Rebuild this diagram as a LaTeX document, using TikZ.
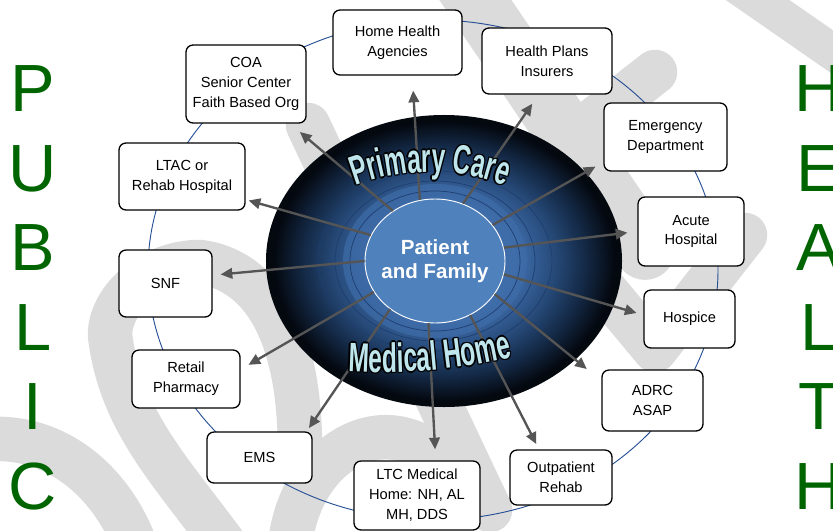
\documentclass[tikz,border=0pt]{standalone}
\usepackage{fontspec}
\setmainfont{Liberation Sans}
\newfontfamily\archfont{Liberation Sans}[FakeStretch=0.6]
\usetikzlibrary{positioning, arrows.meta, shapes.geometric, decorations.text}

\definecolor{healthgreen}{RGB}{0,100,0}
\definecolor{wmgray}{RGB}{219,219,219}
\definecolor{orbitblue}{RGB}{40,80,150}
\definecolor{arrowgray}{RGB}{85,85,85}
\definecolor{coreblue}{RGB}{79,129,189}
\definecolor{haloblue}{RGB}{62,108,168}
\definecolor{ringblue}{RGB}{30,62,112}
\definecolor{archcyan}{RGB}{190,230,236}
\definecolor{orbA}{RGB}{66,112,172}
\definecolor{orbB}{RGB}{52,94,150}
\definecolor{orbC}{RGB}{36,70,115}
\definecolor{orbD}{RGB}{19,40,68}
\definecolor{orbE}{RGB}{4,8,15}

% dark disc: blue at the middle, almost black at the rim
\pgfdeclareradialshading{orbshade}{\pgfpoint{0bp}{0bp}}{%
  color(0bp)=(orbA); color(10bp)=(orbA); color(12.5bp)=(orbB);
  color(16bp)=(orbC); color(20bp)=(orbD); color(24bp)=(orbE); color(50bp)=(orbE)}

\begin{document}
\begin{tikzpicture}[
    x=0.03cm, y=-0.03cm,
    font=\fontsize{12.5}{17}\selectfont,
    % one style per kind of thing
    unit/.style   = {draw=black, line width=1.1pt, fill=white, rounded corners=6pt,
                     align=center, inner sep=2pt},
    arr/.style    = {draw=arrowgray, line width=2pt, -{Triangle[length=10pt, width=9pt]}},
    band/.style   = {draw=wmgray, line width=38pt, line cap=round, line join=round},
    ring/.style   = {draw=ringblue, line width=0.6pt},
    letter/.style = {text=healthgreen, font=\fontsize{57}{57}\selectfont, inner sep=0pt},
    arched/.style 2 args = {decorate, decoration={text along path, text align=center,
                     text={|\archfont\bfseries\fontsize{35}{35}\selectfont\color{#1}|#2}}},
  ]

  \path[use as bounding box] (0,0) rectangle (833,531);
  \clip (0,0) rectangle (833,531);

  %% ---------- watermark swooshes behind everything ----------
  \draw[band, line width=31pt] (700,-40) -- (880,85);
  \draw[band, line width=51pt] (455,-30) -- (645,250);
  \draw[band] (655,72) -- (530,170);
  \draw[band] (308,125) -- (490,510);
  \draw[band] (605,290) -- (655,350) -- (745,235);
  \draw[band] (-20,440) .. controls (60,430) and (120,490) .. (140,560);
  \draw[band] (300,450) .. controls (300,330) and (260,270) .. (200,262)
              .. controls (150,262) and (110,300) .. (110,335)
              .. controls (120,420) and (170,470) .. (225,545);
  \draw[band] (290,545) .. controls (300,450) and (390,400) .. (450,470);

  %% ---------- orbit through the partners ----------
  \draw[draw=orbitblue, line width=0.8pt] (433,270) ellipse [x radius=285, y radius=250];

  %% ---------- the medical home disc ----------
  \node[ellipse, shade, shading=orbshade, minimum width=10.68cm, minimum height=8.76cm,
        inner sep=0pt] (orb) at (444,261) {};
  \fill[haloblue, opacity=0.7] (435,261) ellipse [x radius=92, y radius=77];
  \foreach \rx/\ry in {117/90, 100/80, 85/70}
    \draw[ring] (435,261) ellipse [x radius=\rx, y radius=\ry];
  \node[ellipse, draw=white, line width=0.8pt, fill=coreblue, minimum width=4.2cm,
        minimum height=3.72cm, inner sep=0pt] (pf) at (435,261) {};

  %% ---------- partners round the orbit ----------
  \node[unit, minimum width=3.87cm, minimum height=1.95cm] (hha)     at (397.5,42.5) {Home Health\\Agencies};
  \node[unit, minimum width=3.90cm, minimum height=1.98cm] (hpi)     at (547,61)     {Health Plans\\Insurers};
  \node[unit, minimum width=3.69cm, minimum height=2.04cm] (ed)      at (665.5,137)  {Emergency\\Department};
  \node[unit, minimum width=3.18cm, minimum height=2.07cm] (acute)   at (691,231.5)  {Acute\\Hospital};
  \node[unit, minimum width=2.73cm, minimum height=1.74cm] (hospice) at (689.5,319)  {Hospice};
  \node[unit, minimum width=3.03cm, minimum height=1.83cm] (adrc)    at (652.5,400.5){ADRC\\ASAP};
  \node[unit, minimum width=3.06cm, minimum height=1.65cm] (opr)     at (561,477.5)  {Outpatient\\Rehab};
  \node[unit, minimum width=3.78cm, minimum height=2.07cm] (ltc)     at (417,495.5)  {LTC Medical\\Home: NH, AL\\MH, DDS};
  \node[unit, minimum width=3.15cm, minimum height=1.53cm] (ems)     at (259.5,457.5){EMS};
  \node[unit, minimum width=3.24cm, minimum height=1.74cm] (retail)  at (186,379)    {Retail\\Pharmacy};
  \node[unit, minimum width=2.79cm, minimum height=2.01cm] (snf)     at (165.5,283.5){SNF};
  \node[unit, minimum width=3.78cm, minimum height=2.01cm] (ltac)    at (182,176.5)  {LTAC or\\Rehab Hospital};
  \node[unit, minimum width=3.60cm, minimum height=2.34cm] (coa)     at (246,84)     {COA\\Senior Center\\Faith Based Org};

  %% ---------- spokes out of the patient ----------
  \draw[arr, shorten >=12.8pt] (pf.104)  -- (hha.-66);
  \draw[arr, shorten >=9.4pt]  (pf.64)   -- (hpi.-104);
  \draw[arr, shorten >=7.7pt]  (pf.32)   -- (ed.-158);
  \draw[arr, shorten >=8.5pt]  (pf.11)   -- (acute.west);
  \draw[arr, shorten >=6pt]    (pf.-11)  -- (hospice.175);
  \draw[arr, shorten >=16pt]   (pf.-29)  -- (adrc.159);
  \draw[arr, shorten >=5pt]    (pf.-57)  -- (opr.128);
  \draw[arr, shorten >=9.4pt]  (pf.-96)  -- (ltc.62);
  \draw[arr, shorten >=3.4pt]  (pf.-133) -- (ems.29);
  \draw[arr, shorten >=7.7pt]  (pf.-153) -- (retail.10);
  \draw[arr, shorten >=6.8pt]  (pf.180)  -- (snf.10);
  \draw[arr, shorten >=2.6pt]  (pf.158)  -- (ltac.-20);
  \draw[arr, shorten >=11pt]   (pf.130)  -- (coa.-42);

  %% ---------- arched titles: black copies first, cyan on top ----------
  \foreach \dx/\dy in {1.2/0, -1.2/0, 0/1.2, 0/-1.2, .85/.85, -.85/.85, .85/-.85, -.85/-.85} {
    \path[arched={black}{Primary Care}, xshift=\dx pt, yshift=\dy pt]
      (430,385) ++(240:213) arc (240:300:213);
    \path[arched={black}{Medical Home}, xshift=\dx pt, yshift=\dy pt]
      (330,370) .. controls (400,376) and (470,370) .. (530,352);
  }
  \path[arched={archcyan}{Primary Care}] (430,385) ++(240:213) arc (240:300:213);
  \path[arched={archcyan}{Medical Home}] (330,370) .. controls (400,376) and (470,370) .. (530,352);

  \node[text=white, align=center, font=\bfseries\fontsize{17.5}{21}\selectfont] (pftext) at (pf) {Patient\\and Family};

  %% ---------- side words ----------
  \foreach \ch [count=\i] in {P,U,B,L,I,C}
    \node[letter] (pub\i) at (33, 9.5+79.5*\i) {\ch};
  \foreach \ch [count=\i] in {H,E,A,L,T,H}
    \node[letter] (hea\i) at (819, 9.5+79.5*\i) {\ch};
\end{tikzpicture}
\end{document}
